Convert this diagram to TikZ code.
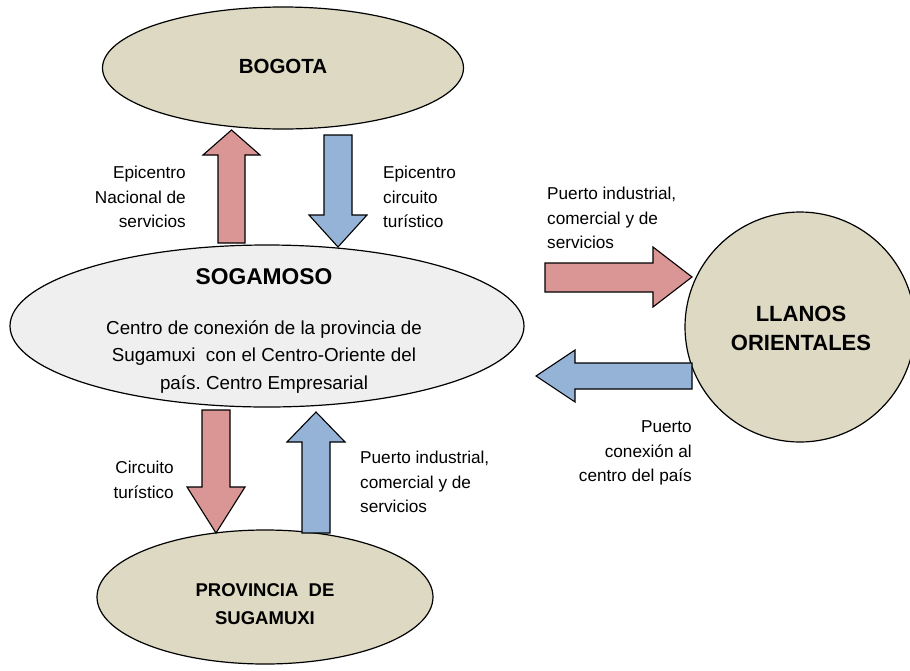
\documentclass[tikz,border=0pt]{standalone}
\usepackage{fontspec}
\setmainfont{Liberation Sans}
\usetikzlibrary{shapes.geometric}
\definecolor{beige}{HTML}{DDD9C3}
\definecolor{lgray}{HTML}{EFEFEF}
\definecolor{redar}{HTML}{D99694}
\definecolor{bluar}{HTML}{95B3D7}
\frenchspacing
\begin{document}
\begin{tikzpicture}[x=1pt,y=-1pt,
  place/.style={draw=black,line width=1.2pt,ellipse,inner sep=0pt},
  blockred/.style={draw=black,line width=1.1pt,fill=redar,line join=miter},
  blockblue/.style={draw=black,line width=1.1pt,fill=bluar,line join=miter},
  lbl/.style={font=\fontsize{17.2}{24.7}\selectfont,inner sep=0pt},
  title/.style={font=\bfseries\fontsize{20.5}{29}\selectfont,inner sep=0pt,align=center}]
\useasboundingbox (0,0) rectangle (910,670);
\fill[white] (0,0) rectangle (910,670);
% places
\node[place,fill=beige,minimum width=361pt,minimum height=122pt] (bog) at (283,68) {};
\node[title] (bogt) at (283,66) {BOGOTA};
\node[place,fill=lgray,minimum width=514pt,minimum height=162pt] (sog) at (267,326) {};
\node[title,font=\bfseries\fontsize{22.8}{29}\selectfont] (sogt) at (264,277) {SOGAMOSO};
\node[lbl,align=center,font=\fontsize{18.8}{27.5}\selectfont] (sogb) at (264,357)
  {Centro de conexión de la provincia de\\Sugamuxi\ \ con el Centro-Oriente del\\país. Centro Empresarial};
\node[place,fill=beige,minimum width=336pt,minimum height=134pt] (prov) at (265,597) {};
\node[title,font=\bfseries\fontsize{18.5}{28}\selectfont] (provt) at (265,604) {PROVINCIA\ \ DE\\SUGAMUXI};
\node[place,circle,fill=beige,minimum size=230pt] (llan) at (800,327) {};
\node[title,font=\bfseries\fontsize{22}{29}\selectfont] (llant) at (801,328) {LLANOS\\ORIENTALES};
% block arrows
\draw[blockred] (218,243) -- (218,155) -- (203,155) -- (231.5,130) -- (260,155) -- (245,155) -- (245,243) -- cycle;
\draw[blockblue] (324,135) -- (352,135) -- (352,215) -- (367,215) -- (338,247) -- (309,215) -- (324,215) -- cycle;
\draw[blockred] (545,263) -- (653,263) -- (653,247) -- (692,277) -- (653,307) -- (653,292) -- (545,292) -- cycle;
\draw[blockblue] (692,363) -- (575,363) -- (575,350) -- (536,376) -- (575,402) -- (575,389) -- (692,389) -- cycle;
\draw[blockred] (202,410) -- (230,410) -- (230,487) -- (245,487) -- (216,533) -- (187,487) -- (202,487) -- cycle;
\draw[blockblue] (302,533) -- (302,442) -- (287,442) -- (316,412) -- (345,442) -- (330,442) -- (330,533) -- cycle;
% labels
\node[lbl,align=right,anchor=east] (l1) at (186,197) {Epicentro\\Nacional de\\servicios};
\node[lbl,align=left,anchor=west] (l2) at (383,197) {Epicentro\\circuito\\turístico};
\node[lbl,align=left,anchor=west] (l3) at (547,218) {Puerto industrial,\\comercial y de\\servicios};
\node[lbl,align=right,anchor=east] (l4) at (692,453) {Puerto\\conexión al\\centro del país};
\node[lbl,align=right,anchor=east] (l5) at (174,480) {Circuito\\turístico};
\node[lbl,align=left,anchor=west] (l6) at (360,482) {Puerto industrial,\\comercial y de\\servicios};
\end{tikzpicture}
\end{document}
